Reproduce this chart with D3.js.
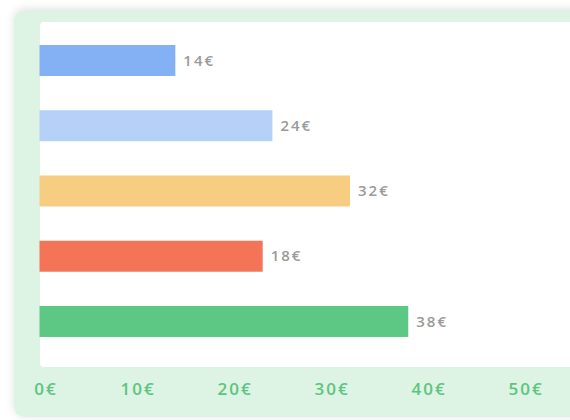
<!DOCTYPE html>
<html>
<head>
<meta charset="utf-8">
<script src="https://cdn.jsdelivr.net/npm/d3@7"></script>
<style>
  html, body { margin: 0; padding: 0; background: #ffffff; }
  svg { display: block; }
</style>
</head>
<body>
<svg id="chart" width="570" height="420"></svg>
<script>
// ---- data ----
const categories = ["A", "B", "C", "D", "E"];
const values = [14, 24, 32, 23, 38];
const valueLabels = ["14€", "24€", "32€", "18€", "38€"];
const barColors = ["#84b1f4", "#b6d1f8", "#f7cd81", "#f47457", "#5cc883"];
const tickValues = [0, 10, 20, 30, 40, 50];
const tickLabels = ["0€", "10€", "20€", "30€", "40€", "50€"];

const svg = d3.select("#chart");
const font = "'Open Sans', 'DejaVu Sans', sans-serif";

// shadow filter
const defs = svg.append("defs");
const f = defs.append("filter").attr("id", "shadow")
  .attr("x", "-10%").attr("y", "-10%").attr("width", "120%").attr("height", "120%");
f.append("feDropShadow").attr("dx", 0).attr("dy", -1).attr("stdDeviation", 4)
  .attr("flood-color", "#000").attr("flood-opacity", 0.12);

// outer green panel
svg.append("rect")
  .attr("x", 14).attr("y", 10).attr("width", 600).attr("height", 407)
  .attr("rx", 10).attr("fill", "#ddf3e3").attr("filter", "url(#shadow)");

// inner white panel
svg.append("rect")
  .attr("x", 40).attr("y", 22).attr("width", 600).attr("height", 345)
  .attr("rx", 4).attr("fill", "#ffffff");

// scales
const x = d3.scaleLinear().domain([0, 50]).range([39.5, 524.7]);
const y = d3.scaleBand().domain(categories).range([22.16, 359.8]).paddingInner(0.525).paddingOuter(0.35);

// bars
svg.append("g").selectAll("rect")
  .data(values)
  .join("rect")
  .attr("x", x(0))
  .attr("y", (d, i) => y(categories[i]))
  .attr("width", d => x(d) - x(0))
  .attr("height", y.bandwidth())
  .attr("fill", (d, i) => barColors[i]);

// value labels
svg.append("g").selectAll("text")
  .data(values)
  .join("text")
  .attr("x", d => x(d) + 8)
  .attr("y", (d, i) => y(categories[i]) + y.bandwidth() / 2)
  .attr("dy", "0.35em")
  .attr("font-family", font)
  .attr("font-size", 15)
  .attr("font-weight", 600)
  .attr("letter-spacing", 2)
  .attr("fill", "#9a9a9a")
  .text((d, i) => valueLabels[i]);

// x axis
const axis = d3.axisBottom(x)
  .tickValues(tickValues)
  .tickFormat((d, i) => tickLabels[i])
  .tickSize(0)
  .tickPadding(0);

const ax = svg.append("g").attr("transform", "translate(0,383)").call(axis);
ax.select(".domain").remove();
ax.selectAll("text")
  .attr("font-family", font)
  .attr("font-size", 17)
  .attr("font-weight", 600)
  .attr("letter-spacing", 2)
  .attr("fill", "#5bc57f")
  .attr("dx", (d, i) => i === 0 ? 6 : 1);
</script>
</body>
</html>
